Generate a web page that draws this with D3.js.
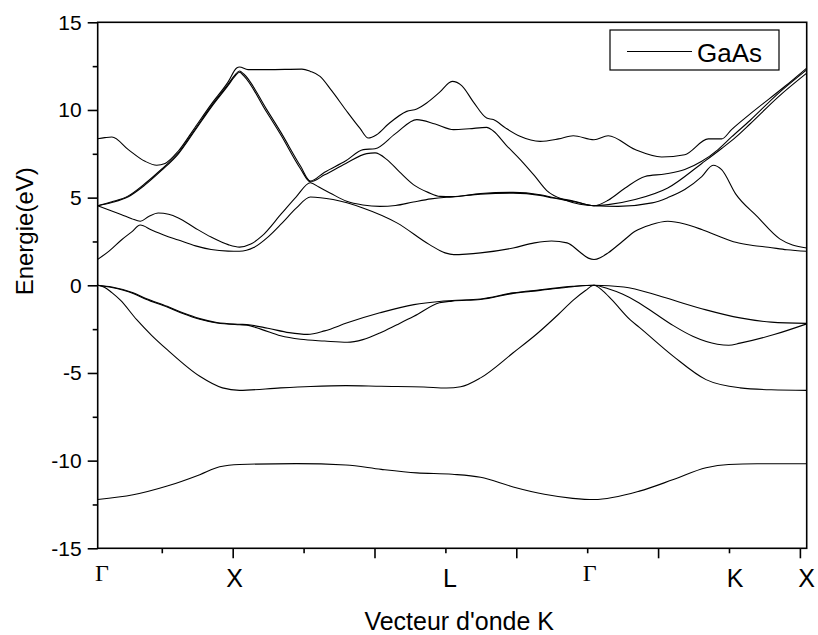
<!DOCTYPE html>
<html>
<head>
<meta charset="utf-8">
<script src="https://cdn.jsdelivr.net/npm/d3@7"></script>
<style>
  body { margin: 0; background: #fff; }
  svg { display: block; }
</style>
</head>
<body>
<svg id="chart" width="818" height="635"></svg>
<script>
// GaAs band structure along Γ–X–L–Γ–K–X. Each band is a list of [k, E(eV)] pairs,
// bands sorted by energy (band1 = lowest valence band).
const band1 = [[0,-12.22],[0.25,-11.95],[0.49,-11.45],[0.72,-10.8],[0.86,-10.35],[1.0,-10.22],[1.4,-10.17],
  [1.75,-10.25],[2.0,-10.5],[2.25,-10.7],[2.5,-10.78],[2.7,-10.95],[2.93,-11.5],[3.15,-11.92],[3.35,-12.15],
  [3.5,-12.22],[3.82,-11.74],[4.06,-11.08],[4.29,-10.41],[4.45,-10.22],[4.65,-10.18],[5.0,-10.18]];

const band2 = [[0,0],[0.05,-0.12],[0.1,-0.42],[0.16,-0.85],[0.275,-1.96],[0.38,-2.85],[0.49,-3.67],[0.72,-5.19],
  [0.88,-5.85],[1.0,-5.99],[1.29,-5.85],[1.5,-5.77],[1.75,-5.72],[2.0,-5.76],[2.3,-5.8],[2.46,-5.86],[2.56,-5.79],
  [2.7,-5.28],[2.93,-3.85],[3.1,-2.75],[3.25,-1.65],[3.354,-0.85],[3.44,-0.3],[3.5,0],[3.56,-0.3],[3.625,-0.82],
  [3.754,-1.96],[3.82,-2.4],[4.06,-4.05],[4.29,-5.38],[4.53,-5.85],[4.75,-5.96],[5.0,-5.99]];

const band3 = [[0,0],[0.1,-0.13],[0.25,-0.47],[0.34,-0.79],[0.49,-1.24],[0.6,-1.61],[0.72,-1.94],[0.84,-2.15],
  [1.0,-2.25],[1.05,-2.27],[1.15,-2.5],[1.29,-2.88],[1.43,-3.08],[1.6,-3.18],[1.76,-3.25],[1.87,-3.1],[1.99,-2.72],
  [2.11,-2.25],[2.23,-1.77],[2.41,-1.0],[2.5,-0.9],[2.7,-0.81],[2.93,-0.46],[3.12,-0.29],[3.35,-0.08],[3.5,0],
  [3.6,-0.2],[3.7,-0.5],[3.8,-0.92],[3.92,-1.55],[4.06,-2.3],[4.2,-2.92],[4.37,-3.36],[4.45,-3.42],[4.53,-3.3],
  [4.77,-2.81],[5.0,-2.2]];

const band4 = [[0,0],[0.1,-0.1],[0.25,-0.43],[0.34,-0.75],[0.49,-1.2],[0.6,-1.57],[0.72,-1.9],[0.84,-2.12],
  [1.0,-2.22],[1.05,-2.24],[1.2,-2.45],[1.35,-2.7],[1.48,-2.8],[1.6,-2.6],[1.76,-2.14],[1.99,-1.57],[2.23,-1.1],
  [2.41,-0.92],[2.5,-0.87],[2.7,-0.78],[2.93,-0.43],[3.12,-0.26],[3.35,-0.06],[3.5,0],[3.71,-0.1],[3.94,-0.55],
  [4.1,-0.95],[4.29,-1.4],[4.53,-1.86],[4.75,-2.1],[5.0,-2.17]];

const band5 = [[0,1.48],[0.08,1.95],[0.169,2.6],[0.24,3.05],[0.3,3.44],[0.38,3.15],[0.47,2.85],[0.569,2.58],
  [0.69,2.25],[0.8,2.04],[0.92,1.95],[1.0,1.94],[1.1,2.15],[1.2,2.75],[1.3,3.55],[1.4,4.4],[1.5,5.04],
  [1.66,4.89],[1.87,4.41],[2.11,3.56],[2.34,2.32],[2.45,1.85],[2.51,1.75],[2.6,1.78],[2.7,1.85],[2.93,2.13],
  [3.08,2.42],[3.2,2.53],[3.31,2.42],[3.4,1.9],[3.46,1.55],[3.5,1.47],[3.55,1.6],[3.6,1.85],[3.7,2.5],
  [3.79,3.08],[3.9,3.45],[4.02,3.65],[4.14,3.5],[4.26,3.18],[4.38,2.8],[4.5,2.45],[4.62,2.27],[4.73,2.17],
  [4.86,2.03],[5.0,1.94]];

const band6 = [[0,4.54],[0.08,4.3],[0.169,4.03],[0.24,3.8],[0.3,3.65],[0.36,3.92],[0.427,4.12],[0.5,4.05],
  [0.569,3.84],[0.686,3.27],[0.8,2.75],[0.92,2.32],[1.0,2.18],[1.08,2.35],[1.157,2.8],[1.297,4.1],[1.4,5.05],
  [1.5,5.85],[1.56,5.6],[1.638,5.27],[1.756,4.79],[1.87,4.58],[1.99,4.5],[2.1,4.55],[2.226,4.75],[2.35,4.93],
  [2.46,5.02],[2.5,5.04],[2.7,5.2],[2.93,5.26],[3.12,5.13],[3.21,4.98],[3.354,4.78],[3.5,4.54],[3.67,4.5],
  [3.91,4.7],[4.02,5.0],[4.14,5.46],[4.26,6.2],[4.34,6.85],[4.4,6.6],[4.5,5.2],[4.65,3.93],[4.81,2.65],
  [4.9,2.3],[5.0,2.13]];

const band7 = [[0,4.54],[0.1,4.72],[0.216,5.05],[0.33,5.7],[0.45,6.55],[0.569,7.5],[0.686,8.83],[0.8,10.15],
  [0.92,11.4],[0.97,11.95],[1.0,12.15],[1.03,11.95],[1.19,9.9],[1.29,8.6],[1.43,6.65],[1.5,5.9],[1.6,6.3],
  [1.75,6.95],[1.897,7.51],[1.956,7.55],[2.04,7.17],[2.13,6.45],[2.226,5.74],[2.33,5.3],[2.414,5.07],[2.5,5.06],
  [2.7,5.24],[2.93,5.3],[3.12,5.16],[3.21,5.01],[3.354,4.81],[3.5,4.54],[3.6,4.6],[3.79,4.89],[4.02,5.55],
  [4.26,6.95],[4.4,7.8],[4.5,8.45],[4.6,9.2],[4.8,10.75],[5.0,12.1]];

const band8 = [[0,4.54],[0.1,4.76],[0.216,5.1],[0.33,5.78],[0.45,6.62],[0.569,7.56],[0.686,8.9],[0.8,10.22],
  [0.92,11.47],[0.97,12.02],[1.0,12.22],[1.03,12.05],[1.19,10.05],[1.29,8.75],[1.43,6.8],[1.5,5.95],[1.6,6.45],
  [1.75,7.1],[1.873,7.74],[1.956,7.79],[2.1,8.65],[2.25,9.45],[2.38,9.2],[2.51,8.88],[2.62,8.93],[2.743,9.01],
  [2.79,8.8],[2.88,8.0],[2.98,7.17],[3.08,6.25],[3.167,5.4],[3.3,4.85],[3.4,4.62],[3.5,4.54],[3.6,4.85],
  [3.72,5.55],[3.86,6.21],[4.0,6.35],[4.14,6.6],[4.26,7.07],[4.375,7.74],[4.47,8.46],[4.6,9.4],[4.8,10.95],
  [5.0,12.29]];

const band9 = [[0,8.36],[0.05,8.42],[0.1,8.46],[0.216,7.74],[0.334,7.07],[0.416,6.85],[0.475,6.95],[0.569,7.66],
  [0.686,9.0],[0.8,10.32],[0.92,11.6],[0.98,12.39],[1.0,12.45],[1.06,12.3],[1.2,12.3],[1.44,12.33],[1.5,12.2],
  [1.568,11.92],[1.65,11.1],[1.75,10.0],[1.85,8.95],[1.908,8.4],[1.967,8.59],[2.05,9.2],[2.179,9.92],[2.25,10.06],
  [2.32,10.4],[2.41,11.0],[2.5,11.63],[2.567,11.39],[2.65,10.45],[2.743,9.54],[2.79,9.45],[2.88,8.95],[2.978,8.5],
  [3.12,8.21],[3.25,8.35],[3.354,8.53],[3.5,8.3],[3.6,8.53],[3.79,7.74],[3.977,7.32],[4.14,7.45],[4.306,8.35],
  [4.4,8.35],[4.47,8.88],[4.61,9.83],[4.847,11.35],[5.0,12.39]];

const bands = [band1, band2, band3, band4, band5, band6, band7, band8, band9];

// Axis ticks and labels
const yMajorTicks = [-15, -10, -5, 0, 5, 10, 15];
const yMinorTicks = [-12.5, -7.5, -2.5, 2.5, 7.5, 12.5];
const kMajorTicks = [0.952, 1.952, 2.952, 3.952, 4.952];
const kMinorTicks = [0.452, 1.452, 2.452, 3.452, 4.452];
const symLabels = ["Γ", "X", "L", "Γ", "K", "X"];
const symLabelPos = [0.03, 0.965, 2.485, 3.47, 4.495, 5.0];
const seriesName = "GaAs";

const svg = d3.select("#chart");
const plot = { left: 97.7, right: 806.7, top: 22.3, bottom: 548.3 };

const x = d3.scaleLinear().domain([0, 5]).range([plot.left, plot.right]);
const y = d3.scaleLinear().domain([-15, 15]).range([plot.bottom, plot.top]);

const sans = "Arial, 'Liberation Sans', sans-serif";
const serif = "'Times New Roman', 'Liberation Serif', serif";

// Bands
const line = d3.line()
  .x(d => x(d[0]))
  .y(d => y(d[1]))
  .curve(d3.curveMonotoneX);

svg.append("g")
  .selectAll("path")
  .data(bands)
  .join("path")
  .attr("d", line)
  .attr("fill", "none")
  .attr("stroke", "#000")
  .attr("stroke-width", 1.1);

// Y axis (major + minor ticks)
const yAxis = svg.append("g")
  .attr("transform", `translate(${plot.left},0)`)
  .call(d3.axisLeft(y).tickValues(yMajorTicks).tickSize(10).tickPadding(6)
    .tickFormat(d => String(d)));
yAxis.select(".domain").remove();
yAxis.selectAll("line").attr("stroke", "#000").attr("stroke-width", 1.6);
yAxis.selectAll("text")
  .attr("font-family", sans).attr("font-size", 21).attr("fill", "#000");

const yMinor = svg.append("g")
  .attr("transform", `translate(${plot.left},0)`)
  .call(d3.axisLeft(y).tickValues(yMinorTicks).tickSize(5).tickFormat(""));
yMinor.select(".domain").remove();
yMinor.selectAll("line").attr("stroke", "#000").attr("stroke-width", 1.6);

// X axis ticks
const xMajor = svg.append("g")
  .attr("transform", `translate(0,${plot.bottom})`)
  .call(d3.axisBottom(x).tickValues(kMajorTicks).tickSize(10).tickFormat(""));
xMajor.select(".domain").remove();
xMajor.selectAll("line").attr("stroke", "#000").attr("stroke-width", 1.6);

const xMinor = svg.append("g")
  .attr("transform", `translate(0,${plot.bottom})`)
  .call(d3.axisBottom(x).tickValues(kMinorTicks).tickSize(5).tickFormat(""));
xMinor.select(".domain").remove();
xMinor.selectAll("line").attr("stroke", "#000").attr("stroke-width", 1.6);

// High-symmetry point labels
svg.append("g")
  .selectAll("text")
  .data(symLabels.map((s, i) => ({ s, k: symLabelPos[i] })))
  .join("text")
  .attr("x", d => x(d.k))
  .attr("y", d => d.s === "Γ" ? 581 : 586.5)
  .attr("text-anchor", "middle")
  .attr("font-family", d => d.s === "Γ" ? serif : sans)
  .attr("font-size", d => d.s === "Γ" ? 24 : 25)
  .attr("fill", "#000")
  .text(d => d.s);

// Frame
svg.append("rect")
  .attr("x", plot.left).attr("y", plot.top)
  .attr("width", plot.right - plot.left).attr("height", plot.bottom - plot.top)
  .attr("fill", "none").attr("stroke", "#000").attr("stroke-width", 1.6);

// Axis titles
svg.append("text")
  .attr("x", (x(0) + x(5)) / 2 + 7).attr("y", 629.5)
  .attr("text-anchor", "middle")
  .attr("font-family", sans).attr("font-size", 25).attr("fill", "#000")
  .text("Vecteur d'onde K");

svg.append("text")
  .attr("transform", `translate(33,${(y(-15) + y(15)) / 2 - 54}) rotate(-90)`)
  .attr("text-anchor", "middle")
  .attr("font-family", sans).attr("font-size", 24).attr("fill", "#000")
  .text("Energie(eV)");

// Legend
const legend = svg.append("g").attr("transform", "translate(610,30)");
legend.append("rect")
  .attr("width", 169).attr("height", 40)
  .attr("fill", "#fff").attr("stroke", "#000").attr("stroke-width", 1.2);
legend.append("line")
  .attr("x1", 17).attr("x2", 82).attr("y1", 21.5).attr("y2", 21.5)
  .attr("stroke", "#000").attr("stroke-width", 1.1);
legend.append("text")
  .attr("x", 87).attr("y", 31.5)
  .attr("font-family", sans).attr("font-size", 26).attr("fill", "#000")
  .text(seriesName);
</script>
</body>
</html>
